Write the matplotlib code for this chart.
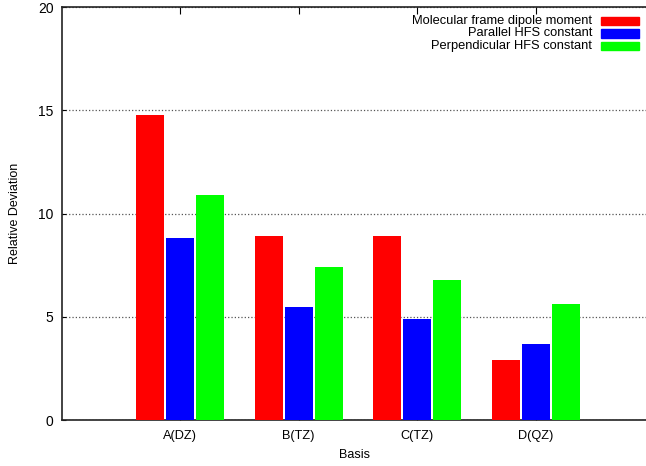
import numpy as np
import matplotlib.pyplot as plt
from matplotlib.patches import Rectangle

plt.rcParams['font.family'] = ['Liberation Sans', 'DejaVu Sans']

# data
basis = ["A(DZ)", "B(TZ)", "C(TZ)", "D(QZ)"]
dipole = [14.8, 8.9, 8.9, 2.9]
hfs_parallel = [8.8, 5.5, 4.9, 3.7]
hfs_perp = [10.9, 7.4, 6.8, 5.6]
series_labels = ["Molecular frame dipole moment", "Parallel HFS constant", "Perpendicular HFS constant"]
series_colors = ["#ff0000", "#0000ff", "#00ff00"]

fig = plt.figure(figsize=(6.46, 4.66), dpi=100)
ax = fig.add_axes([62 / 646, 46 / 466, 1 - 62 / 646, (420 - 7.3) / 466])

x = np.arange(len(basis))
w = 0.236
off = 0.253
for i, vals in enumerate([dipole, hfs_parallel, hfs_perp]):
    ax.bar(x + (i - 1) * off, vals, width=w, color=series_colors[i], zorder=3)

ax.set_xlim(-0.996, 3.93)
ax.set_ylim(0, 20)
ax.set_yticks([0, 5, 10, 15, 20])
ax.set_xticks(x)
ax.set_xticklabels(basis)
ax.grid(axis='y', linestyle=':', color='#555555', linewidth=0.9, zorder=1)
ax.grid(axis='x', visible=False)
ax.spines['right'].set_visible(False)
for s in ['left', 'bottom', 'top']:
    ax.spines[s].set_linewidth(1.2)
    ax.spines[s].set_color('#222222')
ax.tick_params(axis='x', top=True, direction='in', length=5, labelsize=9.2, pad=7)
ax.tick_params(axis='y', direction='in', length=3, labelsize=10, pad=6, right=False)
ax.set_xlabel("Basis", fontsize=9, labelpad=5)
ax.set_ylabel("Relative Deviation", fontsize=9, labelpad=12)

# legend (gnuplot style: right-aligned text, sample box at right)
rows_y = [21, 33.5, 46]
for lab, col, yp in zip(series_labels, series_colors, rows_y):
    fig.text(592 / 646, 1 - yp / 466, lab, ha='right', va='center', fontsize=9.3)
    fig.patches.append(Rectangle((601 / 646, 1 - (yp + 4) / 466), 38 / 646, 8 / 466,
                                 transform=fig.transFigure, color=col, figure=fig))

fig.savefig("out.png", dpi=100)
